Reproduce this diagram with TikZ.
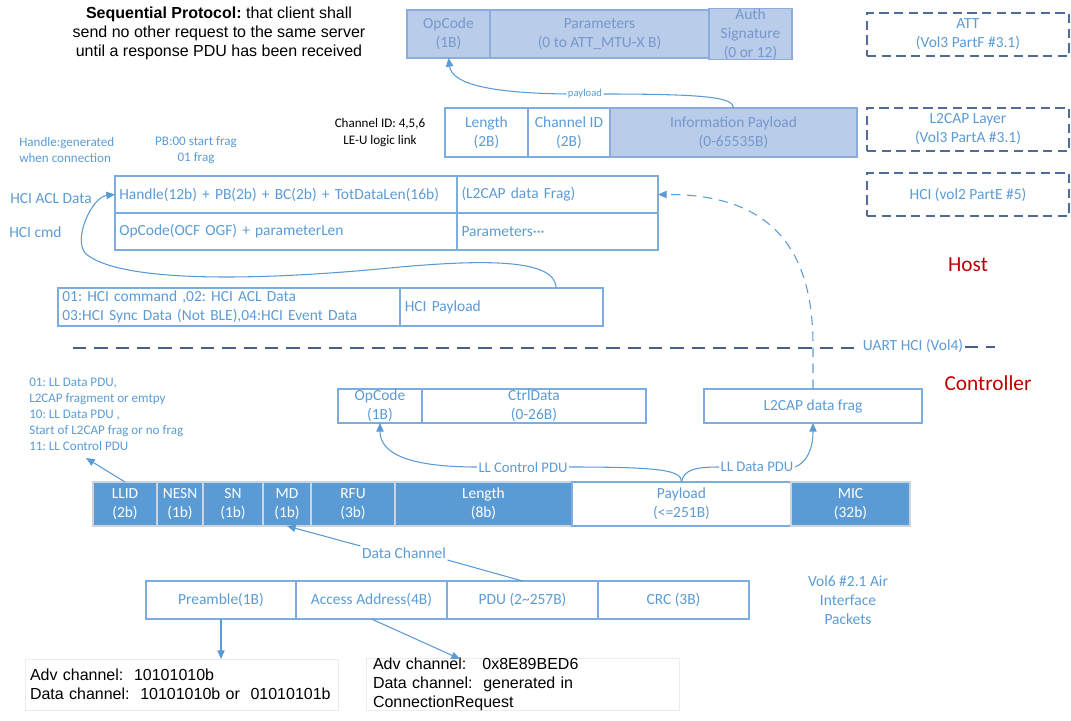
\documentclass[tikz,border=0pt]{standalone}
\usepackage{fontspec}
\setmainfont{Carlito}
\newfontfamily\arialf{Liberation Sans}
\usetikzlibrary{arrows.meta}
\definecolor{txtblue}{RGB}{91,155,213}
\definecolor{bordblue}{RGB}{125,172,222}
\definecolor{attfill}{RGB}{185,204,233}
\definecolor{attbord}{RGB}{140,172,222}
\definecolor{atttxt}{RGB}{118,152,205}
\definecolor{llfill}{RGB}{91,155,213}
\definecolor{llbord}{RGB}{205,212,222}
\definecolor{dashbord}{RGB}{80,108,150}
\definecolor{uartcol}{RGB}{72,96,135}
\definecolor{layerred}{RGB}{192,0,0}
\definecolor{faint}{RGB}{236,236,236}
\newcommand\cellbox[7]{\node[#1,minimum width={(#5-#3)*0.75pt},minimum height={(#6-#4)*0.75pt}] (#2) at ({(#3+#5)/2},{(#4+#6)/2}) {#7};}
\frenchspacing
\begin{document}
\frenchspacing
\begin{tikzpicture}[x=0.75pt,y=-0.75pt,
 cellb/.style={draw=bordblue,line width=0.9pt,inner sep=0pt,outer sep=0pt,text=txtblue,font=\frenchspacing\fontsize{11.6}{14.25}\selectfont,align=center},
 attc/.style={cellb,fill=attfill,draw=attbord,text=atttxt},
 llc/.style={cellb,fill=llfill,draw=llbord,line width=1.1pt,text=white},
 dbox/.style={cellb,draw=dashbord,dash pattern=on 7pt off 4pt},
 note/.style={text=txtblue,font=\frenchspacing\fontsize{9.8}{12}\selectfont,inner sep=0pt},
 lbl/.style={text=txtblue,font=\frenchspacing\fontsize{11.6}{14.25}\selectfont,inner sep=1pt,align=center},
 blk/.style={font=\frenchspacing\arialf\fontsize{12}{14.25}\selectfont,text=black,inner sep=0pt},
 layertxt/.style={text=layerred,font=\fontsize{16}{19}\selectfont,inner sep=0pt},
 conn/.style={draw=txtblue,line width=0.8pt},
 arr/.style={conn,-{Triangle[length=6.5pt,width=5.5pt]}},
 textbox/.style={draw=faint,line width=0.75pt,inner sep=0pt,outer sep=0pt,font=\frenchspacing\arialf\fontsize{12}{14}\selectfont,text=black,align=left}
]
\useasboundingbox (0,0) rectangle (1071,721);

% top note
\node[blk,align=center] (seq) at (219,33) {\textbf{Sequential Protocol:} that client shall\\send no other request to the same server\\until a response PDU has been received};

% ATT row
\cellbox{attc}{attop}{407}{10}{490}{58}{OpCode\\(1B)}
\cellbox{attc}{attpar}{490}{10}{709}{58}{Parameters\\(0 to ATT\_MTU-X B)}
\cellbox{attc}{attauth}{709}{10}{792}{58}{Auth\\Signature\\(0 or 12)}

% layer reference boxes
\cellbox{dbox}{datt}{867}{13}{1069}{56}{ATT\\(Vol3 PartF \#3.1)}
\cellbox{dbox}{dl2}{867}{108}{1069}{151}{L2CAP Layer\\(Vol3 PartA \#3.1)}
\cellbox{dbox}{dhci}{867}{173}{1069}{216}{HCI (vol2 PartE \#5)}

% L2CAP row
\cellbox{cellb}{l2len}{445}{108}{528}{157}{Length\\(2B)}
\cellbox{cellb}{l2cid}{528}{108}{610}{157}{Channel ID\\(2B)}
\cellbox{attc}{l2pay}{610}{108}{857}{157}{Information Payload\\(0-65535B)}
\node[font=\frenchspacing\fontsize{9.8}{12.75}\selectfont,text=black,align=center,inner sep=0pt] (cidnote) at (380,133) {Channel ID: 4,5,6\\LE-U logic link};

% payload arrow
\node[lbl,font=\fontsize{8}{9}\selectfont] (plbl) at (585,94) {payload};
\draw[conn] (l2pay.north) .. controls (733,98) and (712,94) .. (plbl.east);
\draw[arr] (plbl.west) .. controls (490,93) and (452,84) .. (attop.south);

% HCI notes
\node[note,anchor=west,align=left] (hnote) at (19,150) {Handle:generated\\when connection};
\node[note,align=center] (pbnote) at (196,150) {PB:00 start frag\\01 frag};

% HCI rows
\cellbox{cellb,align=left,text width=250pt}{hr1a}{115}{176}{457}{213}{Handle(12b) + PB(2b) + BC(2b) + TotDataLen(16b)}
\cellbox{cellb,align=left,text width=144pt}{hr1b}{457}{176}{658}{213}{(L2CAP data Frag)}
\cellbox{cellb,align=left,text width=250pt}{hr2a}{115}{213}{457}{250}{OpCode(OCF OGF) + parameterLen}
\cellbox{cellb,align=left,text width=144pt}{hr2b}{457}{213}{658}{250}{Parameters···}
\node[lbl,anchor=west,inner sep=0pt] (acl) at (10,199) {HCI ACL Data};
\node[lbl,anchor=west,inner sep=0pt] (cmd) at (9,232) {HCI cmd};

% HCI packet row
\cellbox{cellb,align=left,text width=250pt}{hp1}{58}{288}{400}{326}{01: HCI command ,02: HCI ACL Data\\03:HCI Sync Data (Not BLE),04:HCI Event Data}
\cellbox{cellb,align=left,text width=145pt}{hp2}{400}{288}{603}{326}{HCI Payload}
\coordinate (loopstart) at (556,288);
\draw[arr] (loopstart) .. controls (556,258) and (480,260) .. (400,267)
  .. controls (250,282) and (120,282) .. (86,254)
  .. controls (72,240) and (92,197) .. (hr1a.west);

% host / controller
\node[layertxt] (host) at (968,265) {Host};
\node[layertxt] (ctrl) at (988,383) {Controller};

% UART line
\node[lbl,inner sep=1pt] (uart) at (913,346) {UART HCI (Vol4)};
\coordinate (uartL) at (73,348);
\coordinate (uartR) at (995,347);
\draw[draw=uartcol,line width=1.4pt,dash pattern=on 10pt off 6pt] (uartL) -- (uart.west |- uartL);
\draw[draw=uartcol,line width=1.4pt,dash pattern=on 10pt off 6pt] (uart.east |- uartR) -- (uartR);

% controller payload boxes
\cellbox{cellb}{ctop}{338}{389}{422}{423}{OpCode\\(1B)}
\cellbox{cellb}{ctdata}{422}{389}{646}{423}{CtrlData\\(0-26B)}
\cellbox{cellb}{l2frag}{704}{389}{922}{423}{L2CAP data frag}

% dashed arrow up to HCI
\draw[arr,dash pattern=on 7pt off 5pt] (l2frag.north) -- (813,345) .. controls (813,250) and (772,194) .. (hr1b.east);

% LL data PDU row
\cellbox{llc}{llid}{93}{482}{157}{526}{LLID\\(2b)}
\cellbox{llc}{nesn}{157}{482}{203}{526}{NESN\\(1b)}
\cellbox{llc}{sn}{203}{482}{263}{526}{SN\\(1b)}
\cellbox{llc}{md}{263}{482}{311}{526}{MD\\(1b)}
\cellbox{llc}{rfu}{311}{482}{395}{526}{RFU\\(3b)}
\cellbox{llc}{lllen}{395}{482}{572}{526}{Length\\(8b)}
\cellbox{cellb}{llpay}{572}{482}{791}{526}{Payload\\(<=251B)}
\cellbox{llc}{mic}{791}{482}{910}{526}{MIC\\(32b)}

% LLID note
\node[note,anchor=west,align=left] (llidnote) at (29,414) {01: LL Data PDU,\\L2CAP fragment or emtpy\\10: LL Data PDU ,\\Start of L2CAP frag or no frag\\11: LL Control PDU};
\coordinate (llidtip) at (86,458);
\draw[arr] (llid.north) -- (llidtip);

% LL control / data arrows
\node[lbl,font=\fontsize{11}{13}\selectfont] (lcp) at (523,467) {LL Control PDU};
\node[lbl,font=\fontsize{11}{13}\selectfont] (ldp) at (757,467) {LL Data PDU};
\draw[conn] (llpay.north) .. controls (682,470) and (660,467) .. (lcp.east);
\draw[arr] (lcp.west) .. controls (405,467) and (380,452) .. (ctop.south);
\draw[conn] (llpay.north) .. controls (684,470) and (694,467) .. (ldp.west);
\draw[arr] (ldp.east) .. controls (806,463) and (813,450) .. (l2frag.south);

% air interface packet
\cellbox{cellb}{pre}{146}{581}{296}{619}{Preamble(1B)}
\cellbox{cellb}{aa}{296}{581}{447}{619}{Access Address(4B)}
\cellbox{cellb}{apdu}{447}{581}{598}{619}{PDU (2\textasciitilde257B)}
\cellbox{cellb}{crc}{598}{581}{749}{619}{CRC (3B)}
\node[lbl] (dc) at (404,553) {Data Channel};
\draw[conn] (apdu.north) -- (dc.south east);
\draw[arr] (dc.north west) -- (md.south);
\node[lbl] (vol6) at (848,600) {Vol6 \#2.1 Air\\Interface\\Packets};

% access / preamble notes
\cellbox{textbox,text width=227.25pt}{b1}{25}{659}{338}{710}{Adv channel:\ \ 10101010b\\Data channel:\ \ 10101010b or\ \ 01010101b}
\cellbox{textbox,text width=224.25pt}{b2}{366}{659}{679}{710}{Adv channel:\ \ \ 0x8E89BED6\\Data channel:\ \ generated in\\ConnectionRequest}
\draw[arr] (pre.south) -- (pre.south |- b1.north);
\coordinate (b2tip) at (460,659);
\draw[arr] (aa.south) -- (b2tip);
\end{tikzpicture}
\end{document}
